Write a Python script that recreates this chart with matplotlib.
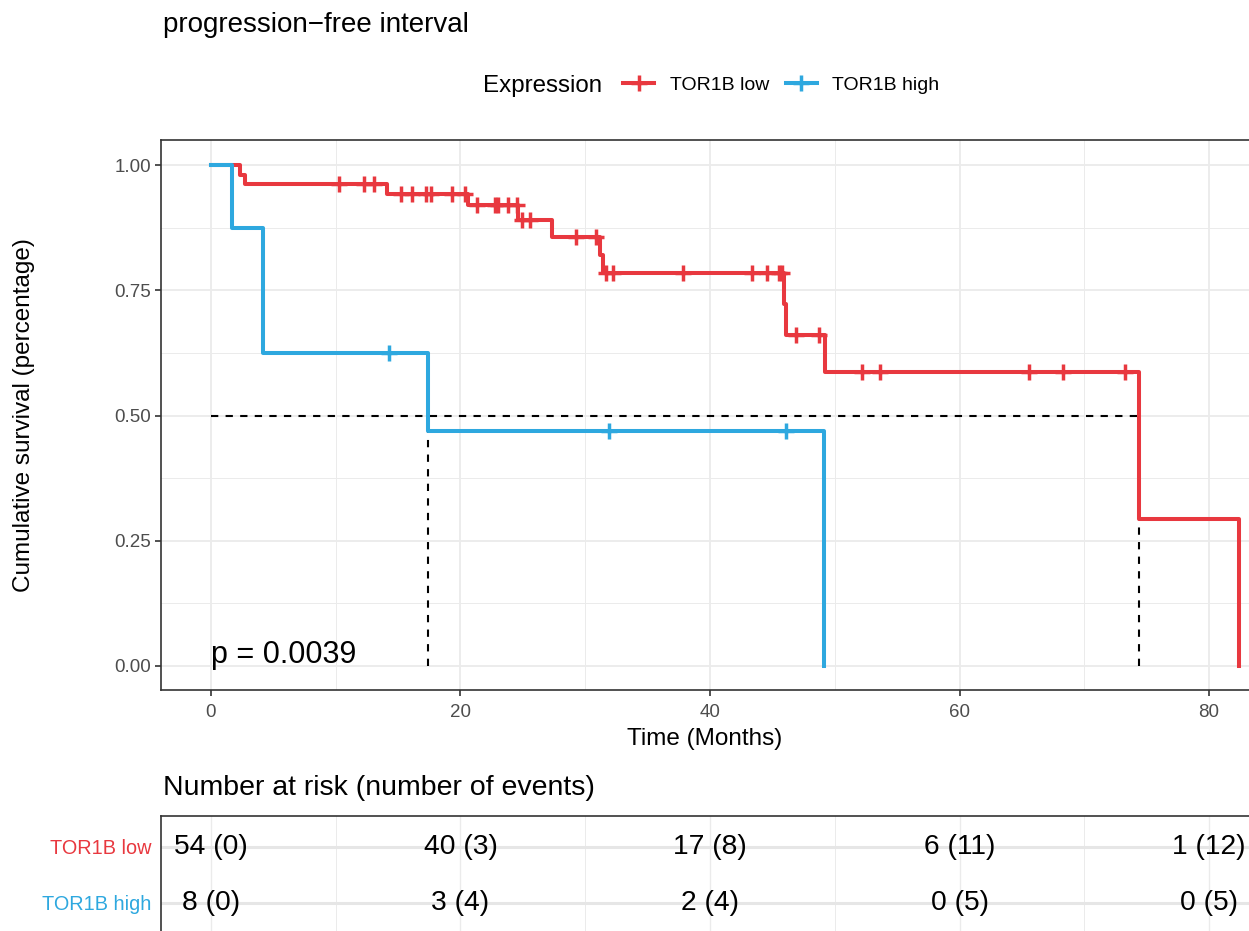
import matplotlib.pyplot as plt
import numpy as np
from matplotlib.lines import Line2D

plt.rcParams['font.family'] = ['Liberation Sans', 'DejaVu Sans']

# Kaplan-Meier steps (months, survival)
t_low = [0, 2.3, 2.7, 14.1, 20.6, 24.6, 27.3, 31.2, 31.4, 45.9, 46.1, 49.2, 74.4, 82.4]
s_low = [1.0, 0.981, 0.963, 0.943, 0.921, 0.891, 0.857, 0.821, 0.784, 0.722, 0.661, 0.587, 0.294, 0.0]
cens_low = [10.3, 12.3, 13.1, 15.2, 16.1, 17.2, 17.6, 19.3, 20.4, 21.3, 22.8, 23.0, 23.8, 24.5,
            24.9, 25.6, 29.3, 30.9, 31.7, 32.2, 37.8, 43.4, 44.6, 45.5, 45.8, 46.9, 48.7,
            52.2, 53.6, 65.6, 68.3, 73.3]

t_high = [0, 1.7, 4.2, 17.4, 49.1]
s_high = [1.0, 0.875, 0.625, 0.469, 0.0]
cens_high = [14.3, 31.9, 46.1]

medians = [74.4, 17.4]
p_text = 'p = 0.0039'

groups = ['TOR1B low', 'TOR1B high']
colors = ['#E8383F', '#2EA8DF']

risk_times = [0, 20, 40, 60, 80]
risk_low = ['54 (0)', '40 (3)', '17 (8)', '6 (11)', '1 (12)']
risk_high = ['8 (0)', '3 (4)', '2 (4)', '0 (5)', '0 (5)']

W, H = 1249, 931
fig = plt.figure(figsize=(W / 100, H / 100), dpi=100)

ax = fig.add_axes([161 / W, 1 - 690 / H, (W - 161) / W, (690 - 140) / H])
xlim = (-4.0, 83.2)
ax.set_xlim(*xlim)
ax.set_ylim(-0.048, 1.05)


def step_value(t, s, x):
    i = np.searchsorted(t, x, side='right') - 1
    return np.array(s)[i]


for t, s, c, col in [(t_low, s_low, cens_low, colors[0]), (t_high, s_high, cens_high, colors[1])]:
    ax.step(t, s, where='post', color=col, lw=2.9, zorder=3)
    ax.plot(c, step_value(t, s, c), ls='none', marker='+', ms=12, mew=2.5, color=col, zorder=4)

# median lines
ax.plot([0, max(medians)], [0.5, 0.5], ls=(0, (3.5, 3.5)), color='black', lw=1.5, zorder=2)
for m in medians:
    ax.plot([m, m], [0, 0.5], ls=(0, (3.5, 3.5)), color='black', lw=1.5, zorder=2)

ax.text(0, 0.006, p_text, fontsize=22, ha='left', va='baseline')

ax.set_xticks([0, 20, 40, 60, 80])
ax.set_xticks([10, 30, 50, 70], minor=True)
ax.set_yticks([0, 0.25, 0.5, 0.75, 1.0])
ax.set_yticklabels(['0.00', '0.25', '0.50', '0.75', '1.00'])
ax.set_yticks([0.125, 0.375, 0.625, 0.875], minor=True)
ax.grid(True, which='major', color='#EBEBEB', lw=1.3)
ax.grid(True, which='minor', color='#EBEBEB', lw=0.7)
ax.set_axisbelow(True)
ax.tick_params(which='major', labelsize=13.5, labelcolor='#4D4D4D', length=4, width=1.2,
               color='#333333', pad=3)
ax.tick_params(axis='x', pad=6)
ax.tick_params(which='minor', length=0)
for sp in ['left', 'bottom', 'top']:
    ax.spines[sp].set_color('#333333')
    ax.spines[sp].set_linewidth(1.2)
ax.spines['right'].set_visible(False)
ax.set_xlabel('Time (Months)', fontsize=17.5)
ax.set_ylabel('Cumulative survival (percentage)', fontsize=17.5)
ax.xaxis.set_label_coords(0.5, -(728 - 690) / 550)
ax.yaxis.set_label_coords(-(161 - 35) / 1088, 0.5)

fig.text(163 / W, 1 - 25 / H, 'progression\u2212free interval', fontsize=20, va='center', ha='left')

# legend
fig.text(483 / W, 1 - 86 / H, 'Expression', fontsize=17.4, va='center', ha='left')
handles = [Line2D([0], [0], color=col, lw=2.9, marker='+', ms=12, mew=2.5) for col in colors]
fig.legend(handles, groups, ncol=2, loc='center left', bbox_to_anchor=(623 / W, 1 - 85 / H),
           frameon=False, fontsize=14, handlelength=1.6, columnspacing=0.85, handletextpad=0.8,
           borderpad=0, borderaxespad=0)

fig.text(163 / W, 1 - 788 / H, 'Number at risk (number of events)', fontsize=20.5, va='center', ha='left')

# risk table
tab = fig.add_axes([161 / W, 0, (W - 161) / W, 115 / H])
tab.set_xlim(*xlim)
tab.set_ylim(0, 1)
y_low, y_high = 1 - 31 / 115, 1 - 87 / 115
for x, a, b in zip(risk_times, risk_low, risk_high):
    tab.text(x, y_low, a, fontsize=20.3, ha='center', va='center')
    tab.text(x, y_high, b, fontsize=20.3, ha='center', va='center')
tab.set_yticks([y_low, y_high])
tab.set_yticklabels(groups)
for lab, col in zip(tab.get_yticklabels(), colors):
    lab.set_color(col)
tab.set_xticks([0, 20, 40, 60, 80])
tab.set_xticks([10, 30, 50, 70], minor=True)
tab.tick_params(axis='y', labelsize=14.3, length=0, pad=7)
tab.tick_params(axis='x', which='both', length=0, labelbottom=False)
tab.grid(True, which='major', axis='both', color='#EBEBEB', lw=1.0)
tab.grid(True, which='minor', axis='x', color='#EBEBEB', lw=0.7)
tab.grid(True, axis='y', color='#E6E6E6', lw=2.2)
tab.set_axisbelow(True)
for sp in ['left', 'top']:
    tab.spines[sp].set_color('#333333')
    tab.spines[sp].set_linewidth(1.2)
tab.spines['right'].set_visible(False)
tab.spines['bottom'].set_visible(False)

fig.savefig('out.png', dpi=100)
